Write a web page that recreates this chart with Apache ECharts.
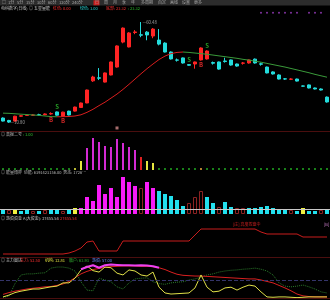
<!DOCTYPE html>
<html><head><meta charset="utf-8">
<script src="https://cdn.jsdelivr.net/npm/echarts@6/dist/echarts.min.js"></script>
<style>html,body{margin:0;padding:0;background:#000;}#c{width:330px;height:300px;}</style>
</head><body><div id="c"></div>
<script>
// ---------- DATA ----------
const categories = ['1','2','3','4','5','6','7','8','9','10','11','12','13','14','15','16','17','18','19','20',
 '21','22','23','24','25','26','27','28','29','30','31','32','33','34','35','36','37','38','39','40',
 '41','42','43','44','45','46','47','48','49','50','51','52','53','54','55'];
const opens  = [13.2,12.0,11.7,14.1,14.5,14.6,14.8,14.8,15.2,16.2,14.0,16.6,16.6,18.4,20.6,31.5,33.0,30.9,34.4,38.3,
 50.6,48.2,55.3,54.2,55.5,53.6,51.6,50.1,45.7,41.8,42.8,39.5,39.8,41.8,42.3,40.5,40.8,41.3,41.8,39.8,
 40.2,40.3,42.2,39.9,38.3,35.9,34.4,32.5,32.3,32.4,29.0,29.5,28.0,27.5,23.5];
const closes = [11.7,11.2,14.1,14.3,14.6,14.7,14.7,15.2,15.4,14.6,16.1,14.7,18.6,20.6,27.0,33.4,32.8,35.4,40.8,48.7,
 57.5,55.1,55.6,54.0,54.1,57.0,49.6,45.7,42.3,41.7,40.3,39.2,40.8,47.7,46.2,40.2,37.3,41.0,39.3,38.8,
 40.3,41.8,40.3,39.7,35.4,34.9,32.4,32.4,32.4,31.4,28.9,28.0,27.5,27.0,21.1];
const lows   = [11.5,10.80,11.5,13.8,14.3,14.4,14.4,14.6,14.8,14.4,13.9,14.5,16.4,18.2,20.5,31.0,31.9,30.7,34.2,38.0,
 50.0,48.0,54.5,53.0,51.5,52.5,49.0,45.5,42.0,41.0,40.0,39.0,37.5,41.5,42.0,39.5,37.0,40.5,39.0,38.5,
 39.5,40.0,40.0,39.0,35.2,34.6,32.2,32.0,31.9,31.2,28.7,27.8,27.3,26.8,20.8];
const highs  = [13.5,12.3,14.3,14.6,14.9,15.0,15.3,15.5,16.0,16.4,16.3,16.8,18.8,20.8,27.2,34.0,37.8,35.6,41.0,49.0,
 57.8,55.5,56.5,60.48,56.0,57.5,57.0,50.5,46.0,42.5,43.0,39.7,41.0,48.0,46.5,41.0,41.0,42.9,42.0,40.0,
 40.8,42.0,42.5,40.5,38.5,36.2,34.7,32.9,32.8,32.6,29.2,29.7,28.2,27.8,23.8];
const maLine = [15.6,15.5,15.3,15.1,14.9,14.7,14.5,14.2,13.9,13.8,13.85,13.95,14.2,14.8,16.0,17.5,19.3,21.0,23.0,25.0,
 27.3,29.8,32.4,35.0,37.5,39.8,42.0,43.7,44.9,45.5,45.7,45.5,45.2,44.9,44.6,44.2,43.8,43.4,43.0,42.6,
 42.1,41.7,41.2,40.7,40.1,39.5,38.9,38.3,37.6,36.9,36.2,35.5,34.7,34.0,33.3];
const sellSignals = [9,31,34];
const buySignals  = [8,10,33];
const topDotIdx = [43,44,45,46,47,48,49,51,52,53];
const topDotLevel = 65.1;
const pinkSignalIdx = [19];
const pinkSignalLevel = 8.3;

// 高抛二号
const gaoValues = [0,0,0,0,0,0,0,0,0,0,0,0,0,9,22,32,28,24,23,31,27,23,20,13,9,7,0,0,0,0,
 0,0,0,0,0,0,0,0,0,0,0,0,0,0,0,0,0,0,0,0,0,0,0,0,0];
const gaoTypes  = ['g','g','g','g','g','g','g','g','g','g','g','g','y','y','m','m','m','m','m','m','m','m','m','r','y','y','g','g','g','g',
 'g','g','g','o','g','g','g','g','g','g','g','g','g','g','g','g','g','g','g','g','g','g','g','g','g'];

// 能量博弈
const energyValues = [4,4,4,3,4,3,3,4,4,4,3,4,6,6,17,13,29,20,26,17,37,32,28,26,32,26,23,20,18,14,
 8,11,17,23,17,11,7,12,7,6,6,6,6,7,8,6,5,4,4,3,6,3,3,4,5];
const energyTypes = ['c','h','y','c','c','h','c','h','c','c','h','c','y','m','m','m','m','m','m','m','m','m','m','h','m','m','c','c','c','c',
 'c','h','h','h','c','c','h','c','c','h','h','c','c','c','c','c','c','c','h','c','y','c','c','h','c'];
const energyRef = 5;

// 游资资金
const fundValues = [4,4,4,4,4,4,4,4,4,4,4,5,7,10,16,17,7,7,7,7,17,17,17,17,17,17,17,17,17,17,
 17,17,23,29,29,29,29,29,29,29,29,29,29,26,24,24,24,24,24,24,21,21,21,21,21];

// 主力雷达
const mainCtrl = [10,15,19,22,25,27,29,31,32,35,39,46,56,67,74,79,82,85,87,88,89,89,89,88,88,87,84,79,72,66,
 63,62,61,61,60,59,58,57,56,55,54,53,53,50,46,42,35,28,20,11,6,4,3,3,3];
const instCtrl = [3,8,15,19,22,25,25,28,31,33,42,42,55,78,89,76,72,86,84,69,64,78,75,64,61,72,30,14,11,12,
 13,14,28,64,30,17,19,28,30,22,30,36,33,17,3,2,3,3,2,1,2,3,3,3,3];
const retail = [2,5,40,64,67,67,69,70,83,86,86,83,75,45,22,20,55,50,45,31,25,42,53,55,56,45,40,38,42,44,
 45,50,53,58,64,67,72,75,77,78,80,81,83,80,75,64,42,33,31,33,36,31,25,17,14];
const hotMoney = [null,null,null,null,null,null,null,null,null,null,null,null,null,80,86,91,84,91,93,92,91,91,90,91,90,88,84,null,null,null,
 null,null,null,null,null,null,null,null,null,null,null,null,null,null,null,null,null,null,null,null,null,null,null,null,null];

const toolbarTabs = ['□','1分','5分','15分','30分','60分','120分','240分','日','周','月','季','年','多周期','自定','画线','设置','更多'];

// ---------- RENDER ----------
const FONT = '"Noto Sans CJK SC","Noto Sans",sans-serif';
const chart = echarts.init(document.getElementById('c'), null, {renderer:'canvas', width:330, height:300});
const GW = 335;
const grids = [
  {left:0, top:10, width:GW, height:120},
  {left:0, top:138, width:GW, height:32},
  {left:0, top:176, width:GW, height:38},
  {left:0, top:222, width:GW, height:36},
  {left:0, top:262, width:GW, height:36}
];
const yRanges = [[7.3,66.4],[0,32],[0,38],[0,36],[0,100]];
const xAxes = grids.map((g,i)=>({type:'category', gridIndex:i, data:categories, show:false, boundaryGap:true}));
const yAxes = yRanges.map((r,i)=>({type:'value', gridIndex:i, min:r[0], max:r[1], show:false}));

const maUp = maLine.map(()=>null), maDn = maLine.map(()=>null);
for (let i=0;i<maLine.length-1;i++){
  const t = maLine[i+1] >= maLine[i] ? maUp : maDn;
  t[i] = maLine[i]; t[i+1] = maLine[i+1];
}
let hiIdx = 0, loIdx = 0;
highs.forEach((v,i)=>{ if(v>highs[hiIdx]) hiIdx=i; });
lows.forEach((v,i)=>{ if(v<lows[loIdx]) loIdx=i; });

const gaoColor = {m:'#d42ad4', y:'#e6e640', r:'#e02020', g:'#1fa01f', o:'#e0a040'};
const enColor = {c:'#22e0ee', m:'#f81cf8', y:'#f0f040'};

function lbl(fmt, pos, color, size, extra){
  return Object.assign({show:true, formatter:fmt, position:pos, color:color, fontSize:size, fontFamily:FONT, distance:1}, extra||{});
}
function markerSeries(idxs, vals, fmt, pos, color, size, weight){
  return {type:'scatter', xAxisIndex:0, yAxisIndex:0, symbol:'circle', symbolSize:1,
    itemStyle:{color:'rgba(0,0,0,0)'}, silent:true, z:5,
    data: idxs.map(i=>[i, vals[i]]),
    label: lbl(fmt, pos, color, size, {fontWeight:weight||'normal'})};
}

const series = [
  {type:'candlestick', xAxisIndex:0, yAxisIndex:0, barWidth:4,
   data: categories.map((c,i)=>[opens[i],closes[i],lows[i],highs[i]]),
   itemStyle:{color:'#ff2424', color0:'#24dcdc', borderColor:'#ff2424', borderColor0:'#24dcdc', borderWidth:1}},
  {type:'line', xAxisIndex:0, yAxisIndex:0, data:maUp, symbol:'none', lineStyle:{color:'#d81e1e', width:1}, z:3},
  {type:'line', xAxisIndex:0, yAxisIndex:0, data:maDn, symbol:'none', lineStyle:{color:'#3a9a3a', width:1}, z:3},
  markerSeries(sellSignals, highs, 'S', 'top', '#2fc82f', 6, 'bold'),
  markerSeries(buySignals, lows, 'B', 'bottom', '#ff3030', 6, 'bold'),
  {type:'scatter', xAxisIndex:0, yAxisIndex:0, symbol:'circle', symbolSize:1, itemStyle:{color:'rgba(0,0,0,0)'}, z:5,
   data:[[hiIdx, highs[hiIdx]]], label: lbl(p=>'—'+p.value[1].toFixed(2), 'right', '#c8c8c8', 4.2)},
  {type:'scatter', xAxisIndex:0, yAxisIndex:0, symbol:'circle', symbolSize:1, itemStyle:{color:'rgba(0,0,0,0)'}, z:5,
   data:[[loIdx, lows[loIdx]]], label: lbl(p=>'—'+p.value[1].toFixed(2), 'right', '#c8c8c8', 4.2)},
  {type:'scatter', xAxisIndex:0, yAxisIndex:0, symbol:'circle', symbolSize:2, itemStyle:{color:'#a040c8'},
   data: topDotIdx.map(i=>[i, topDotLevel])},
  {type:'scatter', xAxisIndex:0, yAxisIndex:0, symbol:'rect', symbolSize:3, itemStyle:{color:'#d08888'},
   data: pinkSignalIdx.map(i=>[i, pinkSignalLevel])},
  // pane 2
  {type:'bar', xAxisIndex:1, yAxisIndex:1, barWidth:2,
   data: gaoValues.map((v,i)=> v>0 ? {value:v, itemStyle:{color:gaoColor[gaoTypes[i]]}} : '-')},
  {type:'scatter', xAxisIndex:1, yAxisIndex:1, symbol:'rect', symbolSize:[2,2],
   data: gaoValues.map((v,i)=> v===0 ? {value:[i,1], itemStyle:{color:gaoColor[gaoTypes[i]]}} : null).filter(Boolean)},
  // pane 3
  {type:'bar', xAxisIndex:2, yAxisIndex:2, barWidth:4,
   data: energyValues.map((v,i)=> energyTypes[i]==='h'
      ? {value:v, itemStyle:{color:'#000', borderColor:'#8c2222', borderWidth:1}}
      : {value:v, itemStyle:{color:enColor[energyTypes[i]]}}),
   markLine:{silent:true, symbol:'none', label:{show:false}, lineStyle:{color:'#c8c8c8', width:1, type:'solid'},
     data:[{yAxis:energyRef}]}},
  // pane 4
  {type:'line', xAxisIndex:3, yAxisIndex:3, data:fundValues, symbol:'none', lineStyle:{color:'#c81c1c', width:1}},
  // pane 5
  {type:'line', xAxisIndex:4, yAxisIndex:4, data:retail, symbol:'none', lineStyle:{color:'#2a7a2a', width:1, type:'dotted'},
   markLine:{silent:true, symbol:'none', label:{show:false}, lineStyle:{color:'#34346a', width:1, type:'dashed'}, data:[{yAxis:50}]}},
  {type:'line', xAxisIndex:4, yAxisIndex:4, data:mainCtrl, symbol:'none', lineStyle:{color:'#d82020', width:1}},
  {type:'line', xAxisIndex:4, yAxisIndex:4, data:instCtrl, symbol:'none', lineStyle:{color:'#e0e048', width:1}},
  {type:'line', xAxisIndex:4, yAxisIndex:4, data:hotMoney, symbol:'none', lineStyle:{color:'#f040f0', width:2}}
];

// text / decorations
function T(x,y,text,fill,size){
  return {type:'text', x:x, y:y, silent:true, z:100,
    style:{text:text, fill:fill, font:(size||4)+'px '+FONT, verticalAlign:'middle'}};
}
function HL(y,color){
  return {type:'line', silent:true, z:90, shape:{x1:0,y1:y,x2:330,y2:y}, style:{stroke:color, lineWidth:1}};
}
const graphics = [
  {type:'rect', shape:{x:0,y:0,width:330,height:5.5}, style:{fill:'#2c2c2c'}, silent:true, z:80},
  {type:'rect', shape:{x:93.5,y:0.3,width:6,height:5}, style:{fill:'#c81e1e'}, silent:true, z:81},
  HL(131.5,'#4a0e0e'), HL(257.5,'#4a0e0e'), HL(298.5,'#4a0e0e')
];
const tabX = [2,8,17,26,37,48,59,72,95,104,113,122,131,141,158,170,182,194];
toolbarTabs.forEach((t,i)=> graphics.push(T(tabX[i], 2.9, t, '#a8a8a8', 4)));
graphics.push(
  T(1,8.5,'电科数字(日线)','#c8c8c8'),
  T(29,8.5,'◎ 五星量能','#c8c8c8'),
  T(53,8.5,'红色: 0.00','#ff3030'),
  T(80,8.5,'绿色: 1.00','#28d8d8'),
  T(106,8.5,'底部: 23.32','#ff3030'),
  T(128,8.5,': 23.32','#30c030'),
  T(1,134,'◎ 高抛二号','#c8c8c8'),
  T(23,134,': 1.00','#30c030'),
  T(1,172.5,'◎ 能量博弈  动能: 6391423156.00  势态: 1726…','#b8b8b8'),
  T(1,218,'◎ 游资资金','#c8c8c8'),
  T(23,218,'A(大资金): 27455.54','#c8c8c8'),
  T(58,218,': 27455.54','#ff3030'),
  T(233,224,'[庄] 高度控盘中','#d02020'),
  T(324,224,'[B]','#d080d0'),
  T(1,260.5,'◎ 主力雷达','#c8c8c8'),
  T(20,260.5,'主力: 52.50','#ff3030'),
  T(45,260.5,'机构: 12.81','#e0e040'),
  T(69,260.5,'散户: 63.93','#30b030'),
  T(92,260.5,'游资: 57.00','#6a8cff')
);

chart.setOption({
  backgroundColor:'#000',
  animation:false,
  grid:grids, xAxis:xAxes, yAxis:yAxes,
  series:series,
  graphic:graphics
});
</script></body></html>
